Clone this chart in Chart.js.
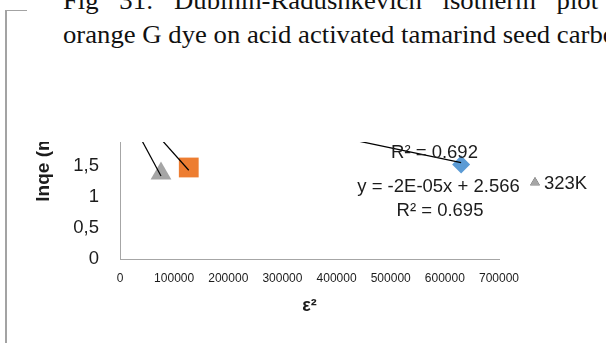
<!DOCTYPE html>
<html>
<head>
<meta charset="utf-8">
<script src="https://cdn.jsdelivr.net/npm/chart.js@4.4.1/dist/chart.umd.min.js"></script>
<style>
  html, body { margin: 0; padding: 0; background: #ffffff; }
  body { width: 606px; height: 343px; position: relative; overflow: hidden; }
  .cap {
    position: absolute; left: 63px;
    font-family: "Liberation Serif", "Times New Roman", serif;
    font-size: 24.5px; line-height: 24.5px; color: #111111;
    white-space: nowrap; transform: scaleX(1.09); transform-origin: 0 0;
  }
  #cap1 { top: -11px; width: 491px; display: flex; justify-content: space-between; }
  #cap2 { top: 22.5px; }
  .frame-v { position: absolute; left: 5px; top: 10px; width: 1.5px; height: 333px; background: #a3a3a3; }
  .frame-h { position: absolute; left: 5px; top: 9.5px; width: 22px; height: 1.5px; background: #a3a3a3; }
  #plotClip { position: absolute; left: 0; top: 142px; width: 606px; height: 201px; overflow: hidden; }
  #chart { position: absolute; left: 0; top: -142px; }
</style>
</head>
<body>
<div id="cap1" class="cap"><span>Fig</span><span>31:</span><span>Dubinin-Radushkevich</span><span>isotherm</span><span>plot</span></div>
<div id="cap2" class="cap">orange G dye on acid activated tamarind seed carbon</div>
<div class="frame-v"></div>
<div class="frame-h"></div>
<div id="plotClip"><canvas id="chart" width="606" height="343"></canvas></div>

<script>
// Series names (temperatures)
const seriesNames = ['303K', '313K', '323K'];

// ε² and ln qe of the plotted points
const eps2_303 = [630000];
const lnqe_303 = [1.524];
const eps2_313 = [127000];
const lnqe_313 = [1.476];
const eps2_323 = [75700];
const lnqe_323 = [1.379];

// Linear trendlines: slope, intercept, and the ε² span they cover
const fit303 = [-1.83e-6, 2.708];
const fit313 = [-9.81e-6, 2.677];
const fit323 = [-1.62e-5, 2.566];
const span303 = [0, 630000];
const span313 = [0, 127000];
const span323 = [0, 75700];

// Trendline labels
const r2_303 = 'R² = 0.692';
const eq_323 = 'y = -2E-05x + 2.566';
const r2_323 = 'R² = 0.695';

// Axis ticks and titles
const xTicks = [0, 100000, 200000, 300000, 400000, 500000, 600000, 700000];
const yTicks = [0, 0.5, 1, 1.5];
const xTitle = 'ε²';
const yTitle = 'lnqe (mg/g)';

const pts = (xs, ys) => xs.map((x, i) => ({ x: x, y: ys[i] }));
const fitLine = (fit, span) => span.map(x => ({ x: x, y: fit[0] * x + fit[1] }));

const SANS = '"Liberation Sans", Arial, sans-serif';
const INK = '#1c1c1c';

const colors = { c303: '#5B9BD5', c313: '#ED7D31', c323: '#A5A5A5' };

// Trendline labels and the legend entry of the 323K series
const labelsPlugin = {
  id: 'trendLabels',
  afterDraw(chart) {
    const { ctx, chartArea: a } = chart;
    ctx.save();
    ctx.font = '18.5px ' + SANS;
    ctx.fillStyle = INK;
    ctx.textAlign = 'center';
    ctx.textBaseline = 'middle';
    ctx.fillText(r2_303, a.left + 314.5, a.bottom - 106);
    ctx.fillText(eq_323, a.left + 318.5, a.bottom - 72);
    ctx.fillText(r2_323, a.left + 320, a.bottom - 48);

    const ds = chart.data.datasets[2];
    Chart.helpers.drawPoint(ctx, {
      pointStyle: ds.pointStyle, radius: 5.6, borderWidth: 0, rotation: 0
    }, a.right + 36, a.bottom - 76.5);
    ctx.fillStyle = ds.backgroundColor;
    ctx.fill();
    ctx.fillStyle = INK;
    ctx.textAlign = 'left';
    ctx.fillText(seriesNames[2], a.right + 45, a.bottom - 75.5);
    ctx.restore();
  }
};

new Chart(document.getElementById('chart'), {
  type: 'scatter',
  data: {
    datasets: [
      { label: seriesNames[0], data: pts(eps2_303, lnqe_303), pointStyle: 'rectRot', radius: 9,
        backgroundColor: colors.c303, borderColor: colors.c303, borderWidth: 0, order: 2 },
      { label: seriesNames[1], data: pts(eps2_313, lnqe_313), pointStyle: 'rect', radius: 14,
        backgroundColor: colors.c313, borderColor: colors.c313, borderWidth: 0, order: 2 },
      { label: seriesNames[2], data: pts(eps2_323, lnqe_323), pointStyle: 'triangle', radius: 12,
        backgroundColor: colors.c323, borderColor: colors.c323, borderWidth: 0, order: 2 },
      { label: 'fit ' + seriesNames[0], data: fitLine(fit303, span303), showLine: true, pointRadius: 0,
        borderColor: '#000000', borderWidth: 1.2, order: 1 },
      { label: 'fit ' + seriesNames[1], data: fitLine(fit313, span313), showLine: true, pointRadius: 0,
        borderColor: '#000000', borderWidth: 1.2, order: 1 },
      { label: 'fit ' + seriesNames[2], data: fitLine(fit323, span323), showLine: true, pointRadius: 0,
        borderColor: '#000000', borderWidth: 1.2, order: 1 }
    ]
  },
  options: {
    responsive: false,
    animation: false,
    devicePixelRatio: 1,
    layout: { padding: { top: 42, right: 107, bottom: 0, left: 0 } },
    plugins: { legend: { display: false }, tooltip: { enabled: false } },
    scales: {
      x: {
        type: 'linear', min: 0, max: 700000,
        afterBuildTicks: s => { s.ticks = xTicks.map(v => ({ value: v })); },
        afterFit: s => { s.height = 84; },
        grid: { display: false, drawTicks: false },
        border: { display: true, color: '#a6a6a6', width: 1 },
        ticks: { padding: 12, maxRotation: 0, autoSkip: false, color: INK,
                 font: { family: SANS, size: 12 }, callback: v => String(v) },
        title: { display: true, text: xTitle, color: INK, padding: { top: 0, bottom: 26 },
                 font: { family: SANS, size: 18, weight: 'bold' } }
      },
      y: {
        type: 'linear', min: 0, max: 3.5,
        afterBuildTicks: s => { s.ticks = yTicks.map(v => ({ value: v })); },
        afterFit: s => { s.width = 120; },
        grid: { display: false, drawTicks: false },
        border: { display: true, color: '#a6a6a6', width: 1 },
        ticks: { padding: 21, color: INK, font: { family: SANS, size: 18.5 },
                 callback: v => String(v).replace('.', ',') },
        title: { display: true, text: yTitle, color: INK, padding: { top: 32, bottom: 0 },
                 font: { family: SANS, size: 19, weight: 'bold' } }
      }
    }
  },
  plugins: [labelsPlugin]
});
</script>
</body>
</html>
